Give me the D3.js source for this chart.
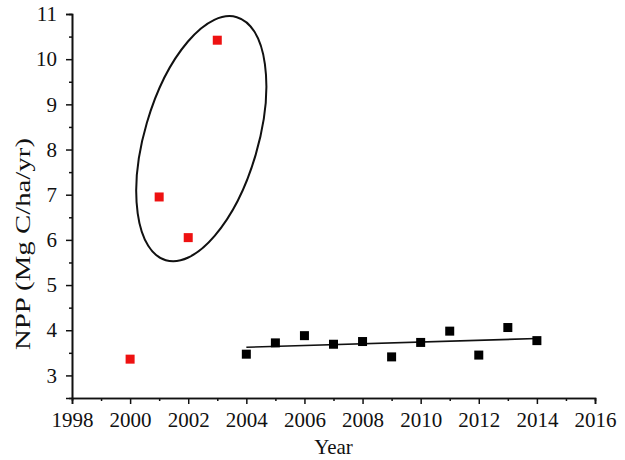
<!DOCTYPE html>
<html>
<head>
<meta charset="utf-8">
<script src="https://cdn.jsdelivr.net/npm/d3@7/dist/d3.min.js"></script>
<style>
  html, body { margin: 0; padding: 0; background: #fff; }
  svg { display: block; }
  svg text { font-family: "Liberation Serif", "Times New Roman", serif !important; fill: #111; }
</style>
</head>
<body>
<svg id="chart" width="625" height="460"></svg>
<script>
// ---- data ----
const redYears = [2000, 2001, 2002, 2003];
const redValues = [3.36, 6.95, 6.05, 10.42];
const blackYears = [2004, 2005, 2006, 2007, 2008, 2009, 2010, 2011, 2012, 2013, 2014];
const blackValues = [3.47, 3.72, 3.88, 3.69, 3.75, 3.41, 3.73, 3.98, 3.45, 4.06, 3.77];
const xTicks = [1998, 2000, 2002, 2004, 2006, 2008, 2010, 2012, 2014, 2016];
const xMinorTicks = [1999, 2001, 2003, 2005, 2007, 2009, 2011, 2013, 2015];
const yTicks = [3, 4, 5, 6, 7, 8, 9, 10, 11];
const yMinorTicks = [3.5, 4.5, 5.5, 6.5, 7.5, 8.5, 9.5, 10.5];
const xTitle = "Year";
const yTitle = "NPP (Mg C/ha/yr)";
// annotation ellipse centre (data units) around the early outliers
const ellipseCenter = [2002.45, 8.24];

// ---- layout ----
const svg = d3.select("#chart");
const x = d3.scaleLinear().domain([1998, 2016]).range([72, 595]);
const y = d3.scaleLinear().domain([2.5, 11]).range([398, 14]);
const axisColor = "#111";
const FONT = "Liberation Serif, Times New Roman, serif";

function styleAxis(g) {
  g.attr("font-family", FONT).attr("font-size", 21);
  g.selectAll("path.domain").attr("stroke", axisColor).attr("stroke-width", 1.6);
  g.selectAll(".tick line").attr("stroke", axisColor).attr("stroke-width", 1.5);
  g.selectAll(".tick text").attr("fill", "#111").attr("font-family", FONT).attr("font-size", 21);
}

// x axis minor ticks
const xMinorG = svg.append("g").attr("transform", `translate(0,${y(2.5)})`)
  .call(d3.axisBottom(x).tickValues(xMinorTicks).tickSize(3).tickFormat(""));
styleAxis(xMinorG);
// x axis major
const xAxisG = svg.append("g").attr("transform", `translate(0,${y(2.5)})`)
  .call(d3.axisBottom(x).tickValues(xTicks).tickSize(6).tickPadding(8).tickFormat(d3.format("d")));
styleAxis(xAxisG);

// y axis minor
const yMinorG = svg.append("g").attr("transform", `translate(${x(1998)},0)`)
  .call(d3.axisLeft(y).tickValues(yMinorTicks).tickSize(3).tickFormat(""));
styleAxis(yMinorG);
// y axis major
const yAxisG = svg.append("g").attr("transform", `translate(${x(1998)},0)`)
  .call(d3.axisLeft(y).tickValues(yTicks).tickSize(6).tickPadding(9).tickFormat(d3.format("d")));
styleAxis(yAxisG);

// titles
svg.append("text")
  .attr("x", (x(1998) + x(2016)) / 2)
  .attr("y", 454)
  .attr("text-anchor", "middle")
  .attr("font-family", FONT)
  .attr("font-size", 21)
  .text(xTitle);

svg.append("text")
  .attr("transform", `translate(30,244) rotate(-90)`)
  .attr("text-anchor", "middle")
  .attr("textLength", 212)
  .attr("lengthAdjust", "spacingAndGlyphs")
  .attr("font-family", FONT)
  .attr("font-size", 22)
  .text(yTitle);

// ellipse annotation
svg.append("ellipse")
  .attr("transform", `translate(${x(ellipseCenter[0])},${y(ellipseCenter[1])}) rotate(-73.7)`)
  .attr("rx", 126.6)
  .attr("ry", 56.7)
  .attr("fill", "none")
  .attr("stroke", "#111")
  .attr("stroke-width", 2);

// regression line over black points
const n = blackYears.length;
const mx = d3.mean(blackYears), my = d3.mean(blackValues);
let sxy = 0, sxx = 0;
for (let i = 0; i < n; i++) { sxy += (blackYears[i] - mx) * (blackValues[i] - my); sxx += (blackYears[i] - mx) ** 2; }
const slope = sxy / sxx, intercept = my - slope * mx;
const x0 = d3.min(blackYears), x1 = d3.max(blackYears);
svg.append("line")
  .attr("x1", x(x0)).attr("y1", y(intercept + slope * x0))
  .attr("x2", x(x1)).attr("y2", y(intercept + slope * x1))
  .attr("stroke", "#111").attr("stroke-width", 1.6);

// markers
const sz = 9;
svg.append("g").selectAll("rect")
  .data(blackYears.map((d, i) => [d, blackValues[i]]))
  .join("rect")
  .attr("x", d => x(d[0]) - sz / 2).attr("y", d => y(d[1]) - sz / 2)
  .attr("width", sz).attr("height", sz).attr("fill", "#000");

svg.append("g").selectAll("rect")
  .data(redYears.map((d, i) => [d, redValues[i]]))
  .join("rect")
  .attr("x", d => x(d[0]) - sz / 2).attr("y", d => y(d[1]) - sz / 2)
  .attr("width", sz).attr("height", sz).attr("fill", "#ee1111");
</script>
</body>
</html>
